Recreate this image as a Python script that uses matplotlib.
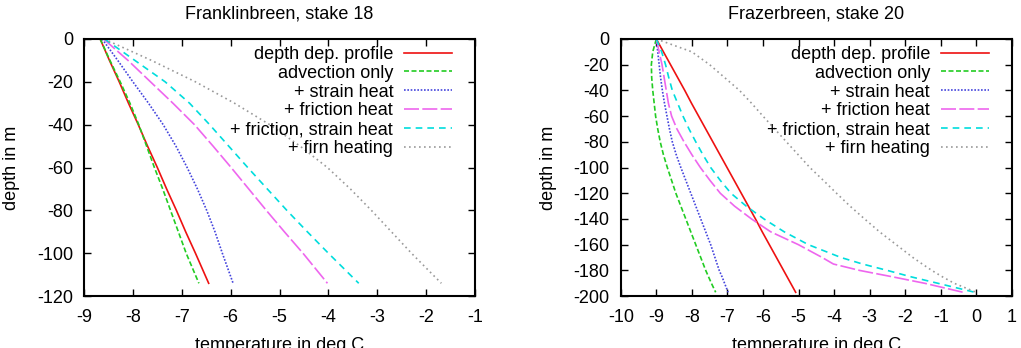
import matplotlib
matplotlib.use('Agg')
import matplotlib.pyplot as plt

plt.rcParams['font.family'] = ['Liberation Sans', 'DejaVu Sans']
plt.rcParams['axes.unicode_minus'] = False

# Franklinbreen, stake 18 (left panel)
fr_depth = [0, -10, -20, -30, -40, -50, -60, -70, -80, -90, -100, -114]
fr_profile = [-8.67, -8.48, -8.28, -8.09, -7.89, -7.70, -7.50, -7.31, -7.11, -6.92, -6.72, -6.45]
fr_advection = [-8.67, -8.47, -8.26, -8.06, -7.88, -7.72, -7.56, -7.39, -7.23, -7.07, -6.91, -6.65]
fr_strain = [-8.63, -8.31, -8.00, -7.68, -7.38, -7.12, -6.89, -6.68, -6.49, -6.32, -6.17, -5.95]
fr_friction = [-8.60, -8.10, -7.64, -7.18, -6.74, -6.36, -5.99, -5.63, -5.27, -4.90, -4.52, -4.02]
fr_fric_strain = [-8.58, -7.96, -7.34, -6.84, -6.43, -6.04, -5.65, -5.25, -4.85, -4.43, -4.00, -3.38]
fr_firn = [-8.59, -7.62, -6.72, -5.92, -5.20, -4.58, -4.02, -3.55, -3.12, -2.71, -2.30, -1.69]

# Frazerbreen, stake 20 (right panel)
fz_depth = [0, -10, -20, -30, -40, -50, -60, -70, -80, -90, -100, -110, -120,
            -130, -140, -150, -160, -170, -175, -180, -185, -190, -197]
fz_profile = [-9.00, -8.80, -8.60, -8.40, -8.20, -8.01, -7.81, -7.61, -7.41, -7.21, -7.01, -6.81,
              -6.61, -6.41, -6.21, -6.02, -5.82, -5.62, -5.52, -5.42, -5.32, -5.22, -5.08]
fz_advection = [-9.00, -9.10, -9.14, -9.13, -9.10, -9.06, -9.02, -8.96, -8.89, -8.80, -8.69, -8.57,
                -8.45, -8.31, -8.17, -8.03, -7.89, -7.75, -7.68, -7.61, -7.53, -7.45, -7.33]
fz_strain = [-9.00, -8.96, -8.92, -8.88, -8.83, -8.77, -8.70, -8.63, -8.55, -8.44, -8.31, -8.17,
             -8.03, -7.89, -7.75, -7.61, -7.47, -7.35, -7.29, -7.23, -7.15, -7.08, -6.98]
fz_friction = [-9.00, -8.92, -8.84, -8.78, -8.72, -8.66, -8.57, -8.42, -8.22, -8.00, -7.76, -7.49,
               -7.20, -6.80, -6.32, -5.78, -5.00, -4.33, -4.02, -3.28, -2.35, -1.45, -0.37]
fz_fric_strain = [-9.00, -8.85, -8.74, -8.65, -8.55, -8.40, -8.25, -8.08, -7.89, -7.69, -7.47, -7.20,
                  -6.90, -6.47, -5.97, -5.40, -4.72, -3.80, -3.20, -2.50, -1.83, -1.08, -0.04]
fz_firn = [-9.00, -8.00, -7.50, -7.08, -6.66, -6.32, -6.00, -5.67, -5.34, -5.01, -4.68, -4.30,
           -3.93, -3.55, -3.14, -2.72, -2.25, -1.78, -1.52, -1.25, -0.95, -0.62, 0.00]

labels = ['depth dep. profile', 'advection only', '+ strain heat',
          '+ friction heat', '+ friction, strain heat', '+ firn heating']
colors = ['#ee1111', '#22cc22', '#4444dd', '#ee66ee', '#00dddd', '#999999']
styles = ['-', (0, (3, 1.5)), (0, (1, 1)), (0, (9, 2)), (0, (4, 3)), (0, (1, 2))]

panels = [
    ('Franklinbreen, stake 18', fr_depth,
     [fr_profile, fr_advection, fr_strain, fr_friction, fr_fric_strain, fr_firn],
     (-9, -1), range(-9, 0), (-120, 0), range(-120, 1, 20)),
    ('Frazerbreen, stake 20', fz_depth,
     [fz_profile, fz_advection, fz_strain, fz_friction, fz_fric_strain, fz_firn],
     (-10, 1), range(-10, 2), (-200, 0), range(-200, 1, 20)),
]

fig = plt.figure(figsize=(10.21, 3.48), dpi=100)
positions = [[0.0823, 0.149, 0.383, 0.739], [0.608, 0.149, 0.383, 0.739]]

for pos, (title, depth, series, xlim, xticks, ylim, yticks) in zip(positions, panels):
    ax = fig.add_axes(pos)
    for temps, lab, col, ls in zip(series, labels, colors, styles):
        ax.plot(temps, depth, color=col, linestyle=ls, linewidth=1.2, label=lab)
    ax.set_xlim(*xlim)
    ax.set_ylim(*ylim)
    ax.set_xticks(list(xticks))
    ax.set_yticks(list(yticks))
    ax.tick_params(direction='in', top=True, right=True, length=5, width=1, labelsize=13)
    ax.tick_params(axis='x', pad=9.5)
    ax.tick_params(axis='y', pad=8)
    for sp in ax.spines.values():
        sp.set_linewidth(1.5)
    ax.set_title(title, fontsize=13, pad=15)
    ax.set_xlabel('temperature in deg.C', fontsize=13, labelpad=8)
    ax.set_ylabel('depth in m', fontsize=13, labelpad=12)
    ax.legend(loc='upper right', bbox_to_anchor=(1 - 23 / 391, 1 - 7 / 257),
              frameon=False, markerfirst=False, fontsize=13,
              handlelength=2.66, handletextpad=0.6, labelspacing=0.1,
              borderaxespad=0, borderpad=0)

fig.savefig('out.png', dpi=100)
